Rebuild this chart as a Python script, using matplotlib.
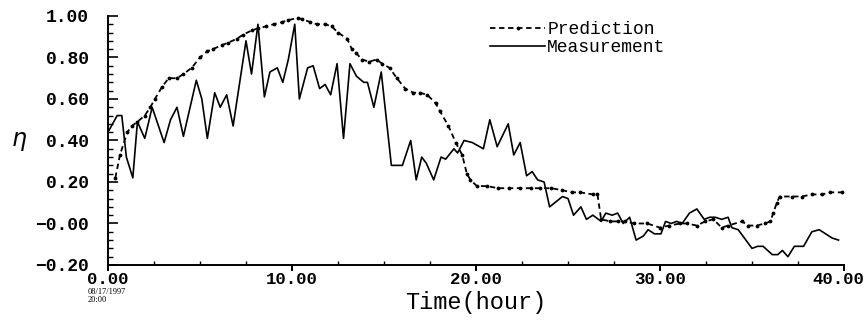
import numpy as np
import matplotlib
matplotlib.use("Agg")
import matplotlib.pyplot as plt
from matplotlib.ticker import MultipleLocator, FixedFormatter, FixedLocator

meas_t = [0.0, 0.5, 0.75, 1.0, 1.35, 1.6, 2.0, 2.4, 3.05, 3.4, 3.75, 4.1, 4.8, 5.1,
          5.4, 5.8, 6.1, 6.45, 6.8, 7.5, 7.8, 8.15, 8.5, 8.8, 9.2, 9.5, 9.8, 10.15,
          10.4, 10.85, 11.15, 11.5, 11.8, 12.1, 12.45, 12.8, 13.15, 13.5, 13.9, 14.1,
          14.45, 14.85, 15.4, 15.7, 16.0, 16.45, 16.75, 17.05, 17.3, 17.7, 18.1, 18.35,
          18.8, 19.0, 19.35, 19.8, 20.4, 20.75, 21.15, 21.75, 22.05, 22.4, 22.75, 23.05,
          23.35, 23.7, 24.0, 24.7, 25.0, 25.3, 25.7, 26.0, 26.35, 26.8, 27.05, 27.4,
          27.7, 28.0, 28.35, 28.7, 29.1, 29.35, 29.7, 30.05, 30.3, 30.6, 30.9, 31.2,
          31.6, 32.0, 32.4, 32.7, 33.0, 33.35, 33.7, 33.9, 34.25, 35.0, 35.3, 35.6,
          36.1, 36.4, 36.65, 36.95, 37.3, 37.8, 38.25, 38.65, 39.35, 39.7]
meas_v = [0.44, 0.52, 0.52, 0.32, 0.22, 0.49, 0.41, 0.56, 0.39, 0.50, 0.56, 0.42, 0.69, 0.60,
          0.41, 0.63, 0.56, 0.62, 0.47, 0.88, 0.72, 0.96, 0.61, 0.73, 0.75, 0.68, 0.79, 0.96,
          0.60, 0.75, 0.76, 0.65, 0.67, 0.62, 0.77, 0.41, 0.77, 0.71, 0.68, 0.68,
          0.56, 0.73, 0.28, 0.28, 0.28, 0.40, 0.21, 0.32, 0.29, 0.21, 0.32, 0.31,
          0.36, 0.34, 0.40, 0.39, 0.36, 0.50, 0.37, 0.48, 0.33, 0.39, 0.23, 0.25,
          0.21, 0.20, 0.08, 0.13, 0.12, 0.04, 0.08, 0.02, 0.04, 0.01, 0.05, 0.04,
          0.05, 0.00, 0.03, -0.08, -0.06, -0.03, -0.05, -0.05, 0.01, 0.00, 0.01, 0.00,
          0.05, 0.07, 0.02, 0.03, 0.03, 0.02, 0.03, -0.02, -0.03, -0.12, -0.11, -0.11,
          -0.15, -0.15, -0.13, -0.16, -0.11, -0.11, -0.04, -0.03, -0.07, -0.08]

# prediction (dashed with dots)
pred_t = [0.4, 0.65, 1.05, 1.3, 1.6, 2.0, 2.3, 2.55, 2.95, 3.3, 3.75, 4.1, 4.55, 5.0,
          5.4, 5.7, 6.2, 6.5, 7.0, 7.35, 7.8, 8.15, 8.6, 9.0, 9.45, 9.8, 10.3, 10.55,
          11.0, 11.35, 11.8, 12.15, 12.5, 13.0, 13.25, 13.5, 13.8, 14.2, 14.6, 14.9,
          15.3, 15.7, 16.15, 16.6, 16.95, 17.35, 17.8, 18.05, 18.5, 18.9, 19.25, 19.5,
          19.7, 20.05, 20.6, 21.2, 21.8, 22.4, 23.0, 23.5, 24.1, 24.7, 25.2, 25.65,
          26.35, 26.6, 26.8, 27.3, 27.7, 28.1, 28.6, 29.3, 30.0, 30.5, 31.1, 31.45,
          32.0, 32.45, 32.9, 33.35, 33.7, 34.45, 34.8, 35.25, 35.7, 36.0, 36.15, 36.35,
          36.5, 37.15, 37.7, 38.25, 38.8, 39.25, 39.9]
pred_v = [0.22, 0.33, 0.44, 0.47, 0.49, 0.52, 0.56, 0.60, 0.66, 0.70, 0.70, 0.72, 0.75, 0.80,
          0.83, 0.84, 0.86, 0.87, 0.89, 0.91, 0.93, 0.94, 0.95, 0.96, 0.97, 0.98, 0.99, 0.985,
          0.97, 0.96, 0.96, 0.95, 0.92, 0.89, 0.84, 0.82, 0.79, 0.78, 0.79, 0.77,
          0.75, 0.70, 0.65, 0.63, 0.63, 0.62, 0.58, 0.54, 0.47, 0.39, 0.33, 0.24,
          0.21, 0.18, 0.18, 0.17, 0.17, 0.17, 0.17, 0.17, 0.17, 0.16, 0.15, 0.15,
          0.14, 0.14, 0.02, 0.01, 0.01, 0.01, 0.00, 0.00, -0.02, -0.01, 0.00, 0.00,
          -0.01, 0.01, 0.02, -0.02, -0.01, 0.01, -0.01, -0.01, 0.00, 0.01, 0.05, 0.10,
          0.13, 0.13, 0.13, 0.14, 0.14, 0.15, 0.15]

ytick_vals = [-0.2, 0.0, 0.2, 0.4, 0.6, 0.8, 1.0]
ytick_labels = ["\u22120.20", "\u22120.00", "0.20", "0.40", "0.60", "0.80", "1.00"]
xtick_vals = [0, 10, 20, 30, 40]
xtick_labels = ["0.00", "10.00", "20.00", "30.00", "40.00"]

mono = "Liberation Mono"

fig = plt.figure(figsize=(8.68, 3.23), dpi=100)
ax = fig.add_axes([0.1244, 0.1796, 0.848, 0.771])

ax.plot(pred_t, pred_v, color="black", lw=1.3, ls=(0, (3, 2)),
        marker=".", ms=3.5, label="Prediction")
ax.plot(meas_t, meas_v, color="black", lw=1.2, ls="-", label="Measurement")

ax.set_xlim(0, 40)
ax.set_ylim(-0.2, 1.0)

for s in ["top", "right"]:
    ax.spines[s].set_visible(False)
for s in ["left", "bottom"]:
    ax.spines[s].set_linewidth(1.4)

ax.yaxis.set_major_locator(FixedLocator(ytick_vals))
ax.yaxis.set_major_formatter(FixedFormatter(ytick_labels))
ax.yaxis.set_minor_locator(MultipleLocator(0.04))
# the last x label is drawn separately (it hugs the right edge in the scan)
ax.xaxis.set_major_locator(FixedLocator(xtick_vals))
ax.xaxis.set_major_formatter(FixedFormatter(xtick_labels[:-1] + [""]))
ax.xaxis.set_minor_locator(MultipleLocator(2.5))

ax.tick_params(axis="y", which="major", direction="in", length=7, width=1.2, pad=14)
ax.tick_params(axis="y", which="minor", direction="in", length=3.5, width=1.0)
ax.tick_params(axis="x", which="major", direction="out", length=4, width=1.4, pad=1)
ax.tick_params(axis="x", which="minor", direction="in", length=3, width=1.0)

for lab in ax.get_yticklabels():
    lab.set_fontfamily(mono)
    lab.set_fontweight("bold")
    lab.set_fontsize(13)
for lab in ax.get_xticklabels():
    lab.set_fontfamily(mono)
    lab.set_fontweight("bold")
    lab.set_fontsize(12.5)

ax.annotate(xtick_labels[-1], xy=(xtick_vals[-1], 0), xycoords=ax.get_xaxis_transform(),
            xytext=(-4, -5), textcoords="offset points", ha="center", va="top",
            fontfamily=mono, fontweight="bold", fontsize=12.5, annotation_clip=False)

ax.set_xlabel("Time(hour)", fontfamily=mono, fontsize=17, labelpad=3)
fig.text(0.022, 0.562, r"$\eta$", fontsize=17, ha="center", va="center")
fig.text(0.1015, 0.108, "08/17/1997\n20:00", fontsize=6, fontfamily="Liberation Serif",
         ha="left", va="top", linespacing=0.95)

leg = ax.legend(loc="upper left", bbox_to_anchor=(0.565, 0.935), bbox_transform=fig.transFigure,
                frameon=False, prop={"family": mono, "size": 13}, handlelength=3.0,
                handletextpad=0.15, labelspacing=0.05, borderpad=0, borderaxespad=0)

fig.savefig("out.png", dpi=100)
